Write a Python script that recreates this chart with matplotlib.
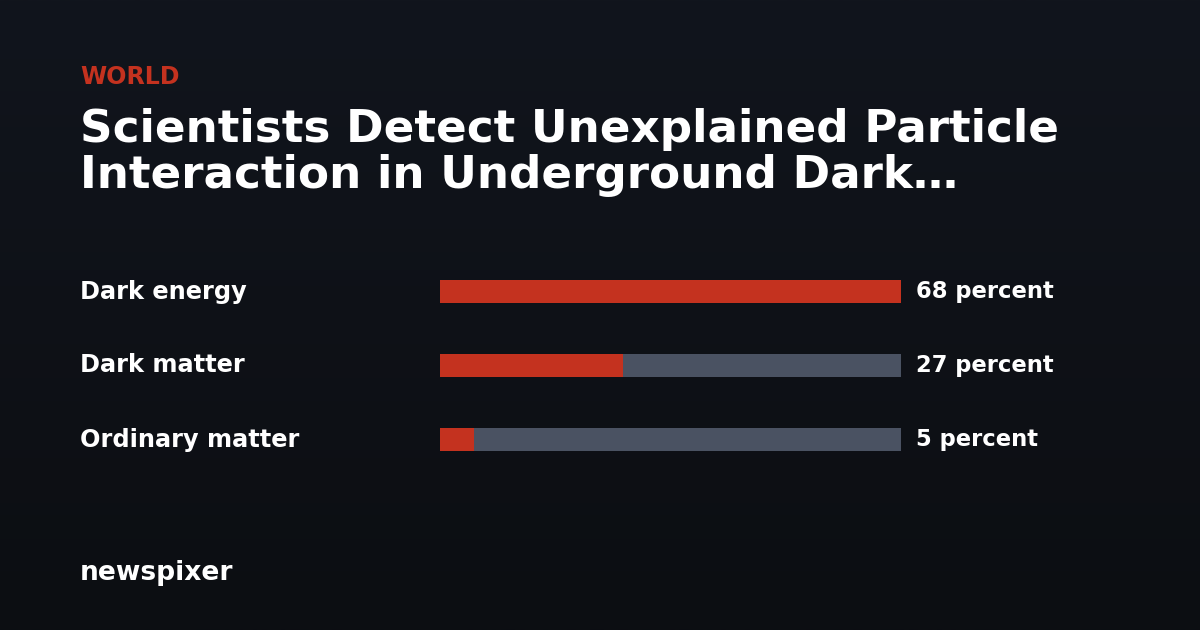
import numpy as np
import matplotlib
matplotlib.use("Agg")
import matplotlib.pyplot as plt
import matplotlib.transforms as mtransforms
from matplotlib.colors import LinearSegmentedColormap

# data
categories = ["Dark energy", "Dark matter", "Ordinary matter"]
values = [68, 27, 5]
value_labels = ["68 percent", "27 percent", "5 percent"]

kicker = "WORLD"
title_lines = ["Scientists Detect Unexplained Particle", "Interaction in Underground Dark\u2026"]
brand = "newspixer"

RED = "#c4321f"
TRACK = "#4a5262"
W, H = 1200, 630

plt.rcParams['font.family'] = ['DejaVu Sans']

fig = plt.figure(figsize=(12, 6.3), dpi=100)

# background gradient
bg = fig.add_axes([0, 0, 1, 1])
cmap = LinearSegmentedColormap.from_list("bg", ["#11151d", "#0c0e12"])
bg.imshow(np.linspace(0, 1, 256).reshape(-1, 1), aspect="auto", cmap=cmap,
          extent=[0, 1, 0, 1])
bg.set_axis_off()


def fy(py):
    # pixel from top -> figure fraction
    return 1 - py / H


fig.text(80 / W, fy(84), kicker, color=RED, fontsize=17.1, fontweight="bold", va="baseline")
fig.text(80 / W, fy(142), title_lines[0], color="white", fontsize=32.6, fontweight="bold", va="baseline")
fig.text(80 / W, fy(188), title_lines[1], color="white", fontsize=32.6, fontweight="bold", va="baseline")
fig.text(80 / W, fy(580), brand, color="white", fontsize=19.1, fontweight="bold", va="baseline")

# bars
slot = 74
top = 291.5 - slot / 2
ax = fig.add_axes([440 / W, fy(top + 3 * slot), 461 / W, 3 * slot / H])
ax.set_xlim(0, max(values))
ax.set_ylim(len(categories) - 0.5, -0.5)
ax.set_axis_off()
ax.patch.set_alpha(0)

y = np.arange(len(categories))
bh = 23 / slot
ax.barh(y, [max(values)] * len(values), height=bh, color=TRACK, linewidth=0)
ax.barh(y, values, height=bh, color=RED, linewidth=0)

left_tr = mtransforms.blended_transform_factory(fig.transFigure, ax.transData)
for i, (c, lab) in enumerate(zip(categories, value_labels)):
    ax.text(80 / W, i, c, transform=left_tr, color="white", fontsize=17.3,
            fontweight="bold", va="center")
    ax.text(916 / W, i, lab, transform=left_tr, color="white", fontsize=16.3,
            fontweight="bold", va="center")

fig.savefig("out.png", dpi=100)
